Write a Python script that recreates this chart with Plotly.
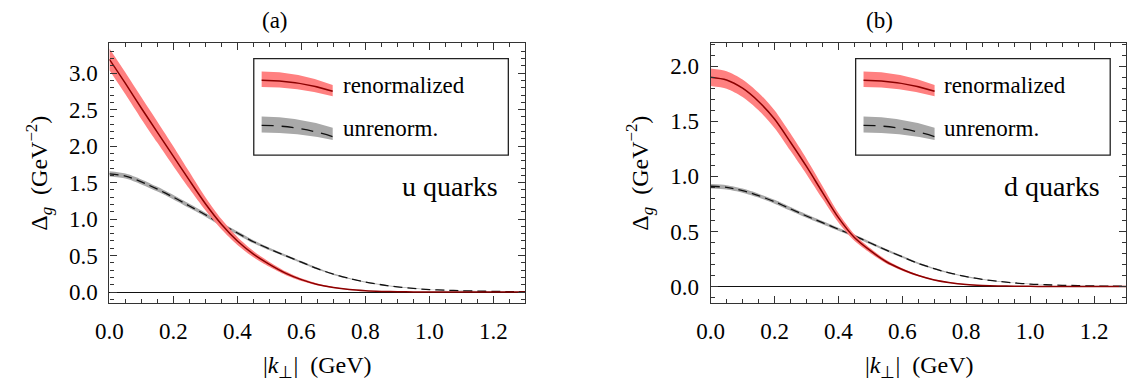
import plotly.graph_objects as go

W, H = 1127, 383

# transverse momentum grid |k_perp| (GeV)
k = [0.00, 0.05, 0.10, 0.15, 0.20, 0.25, 0.30, 0.35, 0.40, 0.45, 0.50, 0.55, 0.60,
     0.65, 0.70, 0.75, 0.80, 0.85, 0.90, 0.95, 1.00, 1.05, 1.10, 1.15, 1.20, 1.25, 1.30]

# (a) u quarks, renormalized: central value and band edges
u_ren = [3.19, 2.86, 2.52, 2.19, 1.86, 1.53, 1.21, 0.93, 0.70, 0.52, 0.38, 0.26, 0.17,
         0.105, 0.062, 0.034, 0.018, 0.009, 0.004, 0.002, 0.001, 0.0005, 0.0002, 0.0001, 0.0, 0.0, 0.0]
u_ren_hi = [3.34, 3.01, 2.67, 2.335, 1.995, 1.645, 1.30, 1.00, 0.755, 0.563, 0.413, 0.285, 0.188,
            0.117, 0.070, 0.039, 0.021, 0.011, 0.005, 0.002, 0.001, 0.0005, 0.0002, 0.0001, 0.0, 0.0, 0.0]
u_ren_lo = [3.04, 2.71, 2.37, 2.045, 1.725, 1.415, 1.12, 0.86, 0.645, 0.477, 0.347, 0.235, 0.152,
            0.093, 0.054, 0.029, 0.015, 0.007, 0.003, 0.002, 0.001, 0.0005, 0.0002, 0.0001, 0.0, 0.0, 0.0]

# (a) u quarks, unrenormalized
u_unr = [1.62, 1.59, 1.51, 1.41, 1.30, 1.18, 1.06, 0.93, 0.81, 0.69, 0.59, 0.50, 0.41,
         0.32, 0.245, 0.186, 0.137, 0.10, 0.07, 0.05, 0.034, 0.026, 0.018, 0.013, 0.009, 0.006, 0.004]
u_unr_hi = [1.655, 1.624, 1.544, 1.442, 1.330, 1.209, 1.087, 0.955, 0.833, 0.710, 0.608, 0.516, 0.424,
            0.332, 0.255, 0.194, 0.144, 0.106, 0.075, 0.054, 0.037, 0.028, 0.020, 0.014, 0.010, 0.007, 0.005]
u_unr_lo = [1.585, 1.556, 1.476, 1.378, 1.270, 1.151, 1.033, 0.905, 0.787, 0.670, 0.572, 0.484, 0.396,
            0.308, 0.235, 0.178, 0.130, 0.094, 0.065, 0.046, 0.031, 0.024, 0.016, 0.012, 0.008, 0.005, 0.003]

# (b) d quarks, renormalized
d_ren = [1.90, 1.875, 1.80, 1.68, 1.52, 1.31, 1.09, 0.855, 0.625, 0.445, 0.325, 0.225, 0.155,
         0.10, 0.06, 0.035, 0.019, 0.01, 0.005, 0.003, 0.0015, 0.0007, 0.0003, 0.0001, 0.0, 0.0, 0.0]
d_ren_hi = [1.98, 1.955, 1.88, 1.76, 1.60, 1.388, 1.16, 0.913, 0.668, 0.475, 0.347, 0.241, 0.166,
            0.107, 0.065, 0.038, 0.021, 0.011, 0.005, 0.003, 0.0015, 0.0007, 0.0003, 0.0001, 0.0, 0.0, 0.0]
d_ren_lo = [1.82, 1.795, 1.72, 1.60, 1.44, 1.232, 1.02, 0.797, 0.582, 0.415, 0.303, 0.209, 0.144,
            0.093, 0.055, 0.032, 0.017, 0.009, 0.005, 0.003, 0.0015, 0.0007, 0.0003, 0.0001, 0.0, 0.0, 0.0]

# (b) d quarks, unrenormalized
d_unr = [0.91, 0.90, 0.87, 0.825, 0.77, 0.705, 0.64, 0.58, 0.52, 0.46, 0.395, 0.33, 0.27,
         0.21, 0.162, 0.122, 0.09, 0.065, 0.047, 0.033, 0.022, 0.016, 0.011, 0.008, 0.005, 0.003, 0.002]
d_unr_hi = [0.93, 0.92, 0.889, 0.843, 0.788, 0.722, 0.656, 0.595, 0.534, 0.473, 0.407, 0.341, 0.280,
            0.219, 0.169, 0.128, 0.095, 0.069, 0.050, 0.035, 0.024, 0.017, 0.012, 0.009, 0.006, 0.004, 0.003]
d_unr_lo = [0.89, 0.88, 0.851, 0.807, 0.752, 0.688, 0.624, 0.565, 0.506, 0.447, 0.383, 0.319, 0.260,
            0.201, 0.155, 0.116, 0.085, 0.061, 0.044, 0.031, 0.020, 0.015, 0.010, 0.007, 0.004, 0.002, 0.001]

panel_titles = ["(a)", "(b)"]
quark_labels = ["u quarks", "d quarks"]
legend_names = ["renormalized", "unrenorm."]
x_ticks = [0.0, 0.2, 0.4, 0.6, 0.8, 1.0, 1.2]
y_ticks = [[0.0, 0.5, 1.0, 1.5, 2.0, 2.5, 3.0], [0.0, 0.5, 1.0, 1.5, 2.0]]

FONT = "Times New Roman, Liberation Serif, serif"
RED_BAND = "#ff8080"
RED_LINE = "#8b0000"
GRAY_BAND = "#a9a9a9"
FRAME = "#333333"


def px(x):
    return x / W


def py(y):
    return 1 - y / H


fig = go.Figure()

panels = [
    dict(xa="x", ya="y", ren=(u_ren, u_ren_lo, u_ren_hi), unr=(u_unr, u_unr_lo, u_unr_hi)),
    dict(xa="x2", ya="y2", ren=(d_ren, d_ren_lo, d_ren_hi), unr=(d_unr, d_unr_lo, d_unr_hi)),
]

line_shape = dict(shape="spline", smoothing=0.8)

for p in panels:
    for (mid, lo, hi), band, is_ren in ((p["unr"], GRAY_BAND, False), (p["ren"], RED_BAND, True)):
        fig.add_trace(go.Scatter(x=k, y=lo, xaxis=p["xa"], yaxis=p["ya"], mode="lines",
                                 line=dict(width=0, color=band, **line_shape), hoverinfo="skip",
                                 showlegend=False))
        fig.add_trace(go.Scatter(x=k, y=hi, xaxis=p["xa"], yaxis=p["ya"], mode="lines",
                                 line=dict(width=0, color=band, **line_shape), fill="tonexty",
                                 fillcolor=band, hoverinfo="skip", showlegend=False))
        if is_ren:
            ln = dict(color=RED_LINE, width=1.5, **line_shape)
        else:
            ln = dict(color="#111111", width=1.3, dash="9px,5px", **line_shape)
        fig.add_trace(go.Scatter(x=k, y=mid, xaxis=p["xa"], yaxis=p["ya"], mode="lines",
                                 line=ln, showlegend=False))

tickfont = dict(family=FONT, size=23, color="black")
common = dict(showline=True, linecolor=FRAME, linewidth=1.2, mirror="allticks",
              ticks="inside", ticklen=7, tickwidth=1, tickcolor=FRAME, showgrid=False,
              tickfont=tickfont, tickformat=".1f")

ydom = [py(304.3), py(43.3)]
fig.update_layout(
    width=W, height=H,
    margin=dict(l=0, r=0, t=0, b=0),
    paper_bgcolor="white", plot_bgcolor="white",
    showlegend=False,
    font=dict(family=FONT, size=22, color="black"),
    xaxis=dict(domain=[px(96.7), px(518.3)], range=[0, 1.3], tickvals=x_ticks, zeroline=False,
               minor=dict(dtick=0.05, tick0=0, ticks="inside", ticklen=4, tickcolor=FRAME, showgrid=False),
               ticklabelstandoff=8, anchor="y", **common),
    yaxis=dict(domain=ydom, range=[-0.146, 3.413], tickvals=y_ticks[0], zeroline=True,
               zerolinecolor="#111111", zerolinewidth=1.2,
               minor=dict(dtick=0.1, tick0=0, ticks="inside", ticklen=4, tickcolor=FRAME, showgrid=False),
               ticklabelstandoff=6, anchor="x", **common),
    xaxis2=dict(domain=[px(706), 1.0], range=[0, 1.3], tickvals=x_ticks, zeroline=False,
                minor=dict(dtick=0.05, tick0=0, ticks="inside", ticklen=4, tickcolor=FRAME, showgrid=False),
                ticklabelstandoff=8, anchor="y2", **common),
    yaxis2=dict(domain=ydom, range=[-0.147, 2.21], tickvals=y_ticks[1], zeroline=True,
                zerolinecolor="#111111", zerolinewidth=1.2,
                minor=dict(dtick=0.1, tick0=0, ticks="inside", ticklen=4, tickcolor=FRAME, showgrid=False),
                ticklabelstandoff=6, anchor="x2", **common),
)

annotations = []
shapes = []
offsets = [0, 610]
for i, dx in enumerate(offsets):
    # panel label
    annotations.append(dict(text=panel_titles[i], x=px(265 + dx + (2 if i else 0)), y=py(21),
                            xref="paper", yref="paper", showarrow=False,
                            font=dict(family=FONT, size=23, color="black"),
                            xanchor="center", yanchor="middle"))
    # axis titles
    annotations.append(dict(text="Δ<sub><i>g</i></sub>&nbsp;&nbsp;(GeV<sup>−2</sup>)",
                            x=px(25 + dx + (-1 if i else 0)), y=py(174), xref="paper", yref="paper",
                            showarrow=False, textangle=-90,
                            font=dict(family=FONT, size=24, color="black"),
                            xanchor="center", yanchor="middle"))
    annotations.append(dict(text="|<i>k</i><sub>⊥</sub>|&nbsp;&nbsp;(GeV)",
                            x=px(308 + dx), y=py(369), xref="paper", yref="paper",
                            showarrow=False, font=dict(family=FONT, size=24, color="black"),
                            xanchor="center", yanchor="middle"))
    # quark flavour label
    annotations.append(dict(text=quark_labels[i], x=px(493 + dx), y=py(187),
                            xref="paper", yref="paper", showarrow=False,
                            font=dict(family=FONT, size=28, color="black"),
                            xanchor="right", yanchor="middle"))
    # legend frame
    shapes.append(dict(type="rect", xref="paper", yref="paper",
                       x0=px(243 + dx), x1=px(501 + dx), y0=py(156), y1=py(59),
                       line=dict(color="#222222", width=1.3), fillcolor="white", layer="above"))

    def band_path(xl, xr, tl, bl, tr, br):
        xm = (xl + xr) / 2
        return (f"M {px(xl)},{py(tl)} Q {px(xm)},{py(tl)} {px(xr)},{py(tr)} "
                f"L {px(xr)},{py(br)} Q {px(xm)},{py(bl)} {px(xl)},{py(bl)} Z")

    def curve_path(xl, xr, yl, yr):
        xm = (xl + xr) / 2
        return f"M {px(xl)},{py(yl)} Q {px(xm)},{py(yl)} {px(xr)},{py(yr)}"

    xl, xr = 251 + dx, 323 + dx
    shapes.append(dict(type="path", xref="paper", yref="paper", layer="above",
                       path=band_path(xl, xr, 72, 87.5, 85.5, 96.7),
                       fillcolor=RED_BAND, line=dict(width=0)))
    shapes.append(dict(type="path", xref="paper", yref="paper", layer="above",
                       path=curve_path(xl, xr, 80.7, 91.7),
                       line=dict(color=RED_LINE, width=1.5)))
    shapes.append(dict(type="path", xref="paper", yref="paper", layer="above",
                       path=band_path(xl, xr, 117, 133.3, 128.3, 140.7),
                       fillcolor=GRAY_BAND, line=dict(width=0)))
    shapes.append(dict(type="path", xref="paper", yref="paper", layer="above",
                       path=curve_path(xl, xr, 126, 137.3),
                       line=dict(color="#111111", width=1.3, dash="12px,8px")))
    for j, name in enumerate(legend_names):
        annotations.append(dict(text=name, x=px(331 + dx), y=py(86 if j == 0 else 129),
                                xref="paper", yref="paper", showarrow=False,
                                font=dict(family=FONT, size=23, color="black"),
                                xanchor="left", yanchor="middle"))

fig.update_layout(annotations=annotations, shapes=shapes)

# page without the default body margin so the figure sits at the window origin
fig.write_html("out.html", post_script="document.body.style.margin='0';")
